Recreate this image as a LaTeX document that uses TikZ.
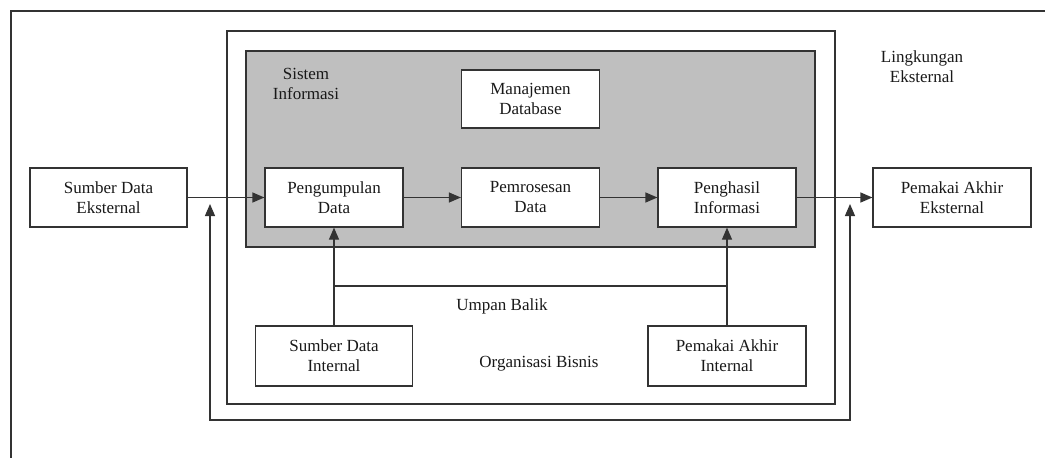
\documentclass[tikz,border=0pt]{standalone}
\usepackage{fontspec}
\setmainfont{Liberation Serif}
\usepackage{tikz}
\usetikzlibrary{arrows.meta,positioning}

\begin{document}
\begin{tikzpicture}[x=1pt,y=-1pt,->,>={Triangle[length=12pt,width=10pt]},line width=1.2pt,draw=black!80,
  kotak/.style={draw=black!80,fill=white,rectangle,align=center,minimum width=138pt,minimum height=59pt,inner sep=0pt,text=black!90,font=\fontsize{17}{20}\selectfont},
  teks/.style={align=center,text=black!90,font=\fontsize{17}{20}\selectfont}]

\useasboundingbox (0,0) rectangle (1045,458);

% lingkungan, organisasi, sistem
\draw[-] (11,458) -- (11,11) -- (1045,11);
\draw[-] (227,31) rectangle (835,404);
\draw[-,fill=black!25] (246,51) rectangle (815,247);

\node[kotak,minimum width=157pt] (sde) at (108.5,197.5) {Sumber Data\\Eksternal};
\node[kotak]                     (pd)  at (334,197.5)   {Pengumpulan\\Data};
\node[kotak]                     (prd) at (530.5,197.5) {Pemrosesan\\Data};
\node[kotak]                     (pi)  at (727,197.5)   {Penghasil\\Informasi};
\node[kotak,minimum width=158pt] (pae) at (952,197.5)   {Pemakai Akhir\\Eksternal};
\node[kotak,minimum height=58pt] (md)  at (530.5,99)    {Manajemen\\Database};
\node[kotak,minimum width=157pt,minimum height=60pt] (sdi) at (334,356) {Sumber Data\\Internal};
\node[kotak,minimum width=158pt,minimum height=60pt] (pai) at (727,356) {Pemakai Akhir\\Internal};

\node[teks] (si)  at (306,84)  {Sistem\\Informasi};
\node[teks] (le)  at (922,67)  {Lingkungan\\Eksternal};
\node[teks] (ub)  at (502,306) {Umpan Balik};
\node[teks] (ob)  at (539,364) {Organisasi Bisnis};

\coordinate (ubkiri)  at (sdi.north |- 0,286);
\coordinate (ubkanan) at (pai.north |- 0,286);
\coordinate (kiri)  at (210,204);
\coordinate (kanan) at (850,204);
\coordinate (bawah) at (530,420);

\path
(sde) edge (pd)
(pd)  edge (prd)
(prd) edge (pi)
(pi)  edge (pae)
(sdi) edge (pd)
(pai) edge (pi)
;
\draw[-] (ubkiri) -- (ubkanan);
\draw[<->] (kiri) |- (bawah) -| (kanan);
\end{tikzpicture}
\end{document}
